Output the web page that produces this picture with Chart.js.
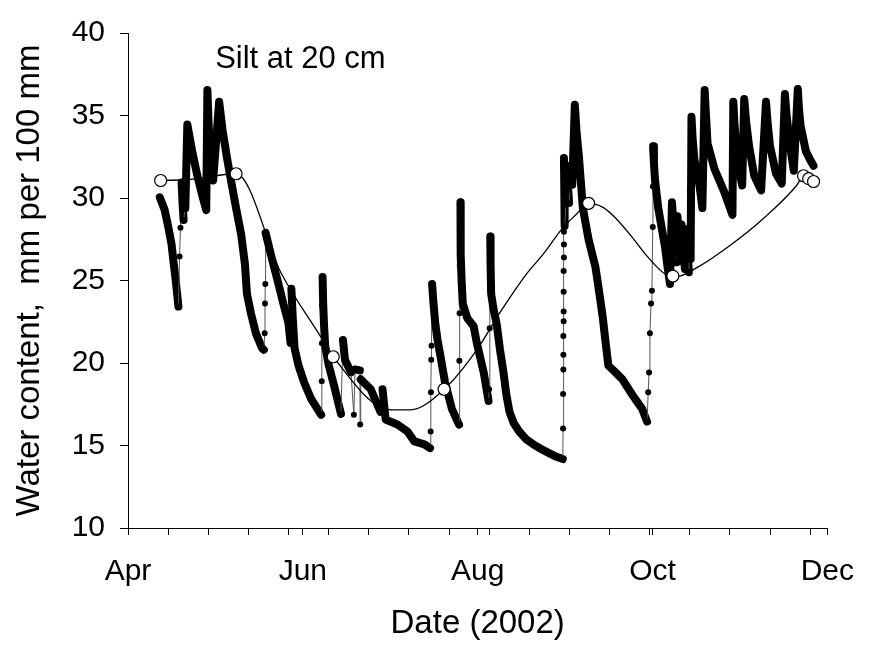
<!DOCTYPE html>
<html>
<head>
    <title>Silt at 20 cm</title>
    <script src="https://cdn.jsdelivr.net/npm/chart.js"></script>
    <style>
        body { margin: 0; background: #fff; }
        .chart-box { width: 873px; height: 655px; }
    </style>
</head>
<body>
    <div class="chart-box"><canvas id="chart-wc"></canvas></div>

    <script>
        // x = day of year 2002 (91 = 1 Apr, 335 = 1 Dec)
        const sensorDay = [
            102.1, 103.8, 105.0, 106.2, 106.9, 107.6, 108.6, 109.0, 109.3, 109.7,
            110.0, 110.4, 111.0, 111.7, 113.5, 115.2, 116.9, 118.3, 118.7, 119.0,
            119.3, 120.0, 120.7, 122.8, 124.0, 125.6, 127.1, 128.7, 130.5, 131.8,
            132.5, 133.9, 135.6, 137.7, 138.4, 138.7, 138.8, 138.9, 139.0, 141.1,
            143.5, 145.2, 147.0, 147.7, 148.0, 148.5, 149.1, 150.5, 152.5, 154.9,
            158.4, 158.6, 158.65, 158.7, 158.8, 158.9, 159.1, 159.4, 159.8, 161.0,
            162.6, 165.3, 166.0, 166.7, 168.8, 169.8, 170.2, 171.9, 172.0, 172.2,
            175.7, 179.1, 179.8, 180.9, 185.0, 188.5, 190.9, 194.4, 196.4, 196.6,
            196.7, 196.8, 196.9, 197.1, 197.6, 198.2, 199.0, 200.0, 201.6, 204.0,
            206.5, 206.6, 206.7, 206.75, 206.8, 206.9, 207.0, 207.05, 207.1, 207.4,
            207.8, 209.4, 211.6, 212.7, 215.1, 216.8, 217.0, 217.2, 217.3, 217.4,
            217.5, 217.7, 218.5, 219.6, 220.8, 222.0, 223.0, 224.1, 225.6, 227.5,
            229.8, 232.4, 235.0, 237.9, 240.3, 242.7, 242.8, 242.8, 242.9, 242.9,
            242.9, 243.0, 243.0, 243.0, 243.0, 243.1, 243.1, 243.1, 243.1, 243.2,
            243.3, 243.4, 244.3, 244.6, 244.9, 245.7, 246.0, 246.9, 247.5, 248.3,
            249.0, 249.7, 251.7, 254.1, 255.4, 256.6, 257.6, 258.6, 261.1, 263.5,
            267.0, 270.4, 272.1, 272.5, 272.8, 273.1, 273.5, 273.8, 274.1, 274.15,
            274.2, 274.5, 274.9, 276.0, 277.2, 278.4, 279.2, 280.1, 280.8, 281.3,
            281.8, 282.4, 282.7, 283.2, 283.8, 284.1, 284.7, 285.3, 285.6, 286.2,
            286.7, 287.0, 287.3, 287.6, 288.0, 288.6, 290.4, 291.4, 292.2, 292.7,
            293.2, 295.6, 299.1, 301.9, 302.2, 302.6, 303.2, 304.6, 305.3, 306.0,
            306.7, 307.7, 309.5, 311.9, 313.6, 314.2, 315.0, 317.1, 319.1, 320.2,
            320.8, 321.6, 322.4, 323.3, 324.7, 325.1, 325.7, 327.5, 329.2, 330.2
        ];
        const sensorWC = [
            30.04, 29.27, 28.30, 27.18, 26.10, 25.09, 23.42, 26.46, 28.19, 30.94,
            29.80, 28.67, 29.39, 34.45, 32.73, 31.35, 30.16, 29.27, 36.54, 35.10,
            33.74, 31.95, 31.06, 35.83, 34.10, 32.37, 30.90, 29.39, 27.78, 25.99,
            24.20, 23.01, 21.81, 20.92, 20.80, 21.81, 23.60, 24.79, 27.89, 26.40,
            24.79, 23.60, 22.41, 21.22, 24.50, 22.70, 20.92, 19.84, 18.80, 17.82,
            16.86, 18.89, 21.20, 23.48, 24.50, 25.21, 23.60, 22.30, 21.04, 19.90,
            18.83, 16.92, 21.40, 20.20, 19.43, 16.86, 19.61, 19.55, 16.27, 19.01,
            18.41, 17.04, 18.41, 16.57, 16.27, 15.85, 15.25, 15.07, 14.84, 15.85,
            18.23, 20.20, 21.04, 24.79, 23.60, 22.41, 21.40, 20.44, 18.83, 17.22,
            16.27, 20.14, 23.01, 25.90, 28.79, 29.27, 29.74, 28.20, 26.58, 25.00,
            23.60, 22.71, 22.23, 21.22, 19.43, 17.70, 18.41, 22.11, 24.90, 27.66,
            26.00, 24.20, 23.30, 22.41, 20.80, 19.43, 18.10, 17.04, 16.35, 15.85,
            15.40, 15.07, 14.80, 14.54, 14.33, 14.18, 16.03, 18.12, 19.61, 20.50,
            21.63, 22.53, 23.12, 24.32, 25.57, 26.40, 27.18, 27.95, 32.43, 31.00,
            29.60, 28.30, 31.80, 30.50, 29.70, 32.00, 30.80, 35.65, 34.00, 32.55,
            31.00, 29.39, 27.48, 25.81, 24.30, 22.83, 21.30, 19.84, 19.43, 19.01,
            18.06, 17.22, 16.45, 18.23, 19.43, 21.81, 23.60, 24.38, 28.25, 30.70,
            33.14, 32.10, 31.06, 29.39, 28.20, 27.00, 25.90, 24.79, 29.74, 28.40,
            27.18, 26.10, 28.90, 27.60, 26.20, 28.40, 27.10, 25.70, 28.10, 26.80,
            25.50, 27.60, 26.30, 34.93, 33.60, 32.37, 30.76, 29.39, 36.54, 34.90,
            33.32, 31.77, 30.34, 28.97, 35.83, 34.50, 33.14, 31.35, 30.76, 36.00,
            34.60, 33.14, 31.35, 30.46, 35.83, 34.50, 33.14, 31.47, 30.88, 36.30,
            35.00, 33.74, 32.70, 31.65, 36.60, 35.40, 34.34, 32.84, 32.25, 31.95
        ];

        // open circles (measured) and the smooth line through them
        const probeDay = [102.4, 128.7, 162.6, 201.3, 251.7, 281.1, 326.7, 328.5, 330.2];
        const probeWC = [31.06, 31.47, 20.38, 18.41, 29.68, 25.27, 31.35, 31.17, 31.00];

        const fitDay = [102.4, 112.4, 128.7, 144.6, 158.1, 162.6, 182.6, 189.5, 201.3, 212.7,
                        220.6, 230.0, 235.8, 242.7, 247.2, 251.7, 256.6, 261.1, 267.0, 272.5,
                        278.4, 281.8, 289.8, 301.5, 312.9, 324.3, 326.7, 330.2];
        const fitWC = [31.06, 31.12, 31.47, 25.39, 21.63, 20.38, 17.16, 17.16, 18.41, 20.80,
                       23.01, 25.39, 26.58, 28.19, 28.97, 29.68, 29.45, 28.79, 27.60, 26.40,
                       25.39, 25.21, 25.81, 27.18, 28.79, 30.76, 31.35, 31.00];

        const monthDays = [91, 152, 213, 274, 335];
        const monthLabels = ["Apr", "Jun", "Aug", "Oct", "Dec"];
        const noteText = "Silt at 20 cm";
        const noteDay = 121.4;
        const noteWC = 37.85;

        const FONT = "'Liberation Sans', Arial, sans-serif";
        Chart.defaults.font.family = FONT;
        Chart.defaults.color = "#000";

        // minor ticks every 14 days from 1 Apr
        const xTicks = monthDays.slice();
        for (let d = 91 + 14; d < 335; d += 14) xTicks.push(d);
        xTicks.sort((a, b) => a - b);

        const toXY = (xs, ys) => xs.map((x, i) => ({ x: x, y: ys[i] }));

        // sparse logger readings (small steps up, sudden drops) show as a thin line
        function esSalto(ctx) {
            const dy = ctx.p1.parsed.y - ctx.p0.parsed.y;
            return (dy > 0 && dy < 4.5) || dy < -2.2;
        }

        const notePlugin = {
            id: "note",
            afterDatasetsDraw(chart) {
                const { ctx, scales } = chart;
                ctx.save();
                ctx.font = "31px " + FONT;
                ctx.fillStyle = "#000";
                ctx.textBaseline = "alphabetic";
                ctx.fillText(noteText, scales.x.getPixelForValue(noteDay), scales.y.getPixelForValue(noteWC));
                ctx.restore();
            }
        };

        new Chart(document.getElementById("chart-wc"), {
            type: "line",
            data: {
                datasets: [
                    {
                        data: toXY(probeDay, probeWC),
                        showLine: false,
                        pointRadius: 6,
                        pointBackgroundColor: "#fff",
                        pointBorderColor: "#000",
                        pointBorderWidth: 1.2
                    },
                    {
                        data: toXY(fitDay, fitWC),
                        borderColor: "#000",
                        borderWidth: 1.3,
                        pointRadius: 0,
                        cubicInterpolationMode: "monotone"
                    },
                    {
                        data: toXY(sensorDay, sensorWC),
                        borderColor: "#000",
                        borderWidth: 8,
                        borderJoinStyle: "round",
                        borderCapStyle: "round",
                        pointRadius: 3,
                        pointBackgroundColor: "#000",
                        pointBorderWidth: 0,
                        segment: {
                            borderWidth: ctx => esSalto(ctx) ? 1 : 8,
                            borderColor: ctx => esSalto(ctx) ? "#555" : "#000"
                        }
                    }
                ]
            },
            options: {
                animation: false,
                responsive: true,
                maintainAspectRatio: false,
                layout: { padding: { top: 25, right: 40, left: 0, bottom: 0 } },
                plugins: {
                    legend: { display: false },
                    tooltip: { enabled: false }
                },
                scales: {
                    x: {
                        type: "linear",
                        min: 91,
                        max: 335,
                        afterBuildTicks: s => { s.ticks = xTicks.map(v => ({ value: v })); },
                        afterFit: s => { s.height = 127; },
                        ticks: {
                            autoSkip: false,
                            maxRotation: 0,
                            minRotation: 0,
                            padding: 19,
                            font: { size: 30 },
                            callback: v => {
                                const i = monthDays.indexOf(v);
                                return i >= 0 ? monthLabels[i] : "";
                            }
                        },
                        grid: { drawOnChartArea: false, drawTicks: true, tickLength: 7, tickColor: "#000" },
                        border: { display: true, color: "#000", width: 1 },
                        title: {
                            display: true,
                            text: "Date (2002)",
                            font: { size: 33 },
                            padding: { top: 0, bottom: 11 }
                        }
                    },
                    y: {
                        min: 10,
                        max: 40,
                        afterFit: s => { s.width = 128; },
                        ticks: { stepSize: 5, padding: 15, font: { size: 30 } },
                        grid: { drawOnChartArea: false, drawTicks: true, tickLength: 8, tickColor: "#000" },
                        border: { display: true, color: "#000", width: 1 },
                        title: {
                            display: true,
                            text: "Water content,  mm per 100 mm",
                            font: { size: 33 },
                            padding: { top: 10, bottom: 0 }
                        }
                    }
                }
            },
            plugins: [notePlugin]
        });
    </script>
</body>
</html>
